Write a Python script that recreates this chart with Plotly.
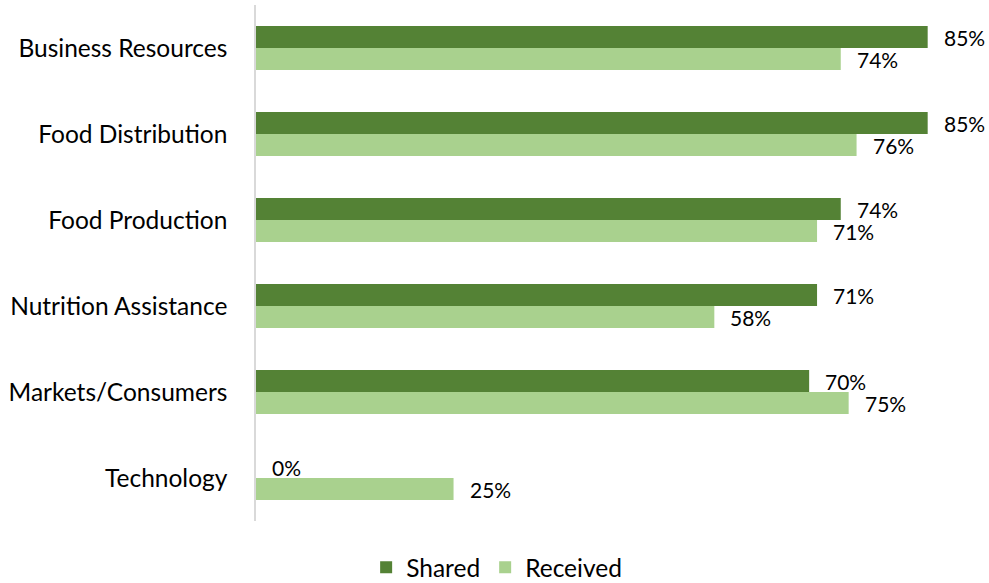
import plotly.graph_objects as go

categories = ["Business Resources", "Food Distribution", "Food Production",
              "Nutrition Assistance", "Markets/Consumers", "Technology"]
shared = [85, 85, 74, 71, 70, 0]
received = [74, 76, 71, 58, 75, 25]

SHARED_COLOR = "#548235"
RECEIVED_COLOR = "#A9D18E"
FONT = "Lato"
LABEL_SIZE = 24.5
VALUE_SIZE = 21

fig = go.Figure()
fig.add_trace(go.Bar(y=categories, x=shared, name="Shared", orientation="h",
                     marker=dict(color=SHARED_COLOR, line=dict(width=0))))
fig.add_trace(go.Bar(y=categories, x=received, name="Received", orientation="h",
                     marker=dict(color=RECEIVED_COLOR, line=dict(width=0))))

# value labels placed just past the end of each bar
annotations = []
for cat, s, r in zip(categories, shared, received):
    annotations.append(dict(x=s, y=cat, text=f"{s}%", showarrow=False,
                            xanchor="left", yanchor="middle", xshift=14, yshift=11,
                            font=dict(family=FONT, size=VALUE_SIZE, color="#000")))
    annotations.append(dict(x=r, y=cat, text=f"{r}%", showarrow=False,
                            xanchor="left", yanchor="middle", xshift=14, yshift=-11,
                            font=dict(family=FONT, size=VALUE_SIZE, color="#000")))

fig.update_layout(
    width=989, height=583,
    margin=dict(l=256, r=6, t=5, b=62, autoexpand=False),
    barmode="group", bargap=0.49, bargroupgap=0,
    plot_bgcolor="white", paper_bgcolor="white",
    font=dict(family=FONT, size=LABEL_SIZE, color="#000"),
    annotations=annotations,
    legend=dict(orientation="h", xref="paper", x=0.331, xanchor="center",
                yref="paper", y=-0.09, yanchor="middle",
                font=dict(family=FONT, size=LABEL_SIZE, color="#000"),
                itemwidth=30, traceorder="normal"),
    showlegend=True,
)
fig.update_xaxes(range=[0, 92], showticklabels=False, showgrid=False,
                 zeroline=False, showline=False)
fig.update_yaxes(autorange="reversed", showline=True, linecolor="#d9d9d9",
                 linewidth=1.5, showgrid=False, ticks="", ticklabelstandoff=22,
                 tickfont=dict(family=FONT, size=LABEL_SIZE, color="#000"))

fig.write_html("out.html")
